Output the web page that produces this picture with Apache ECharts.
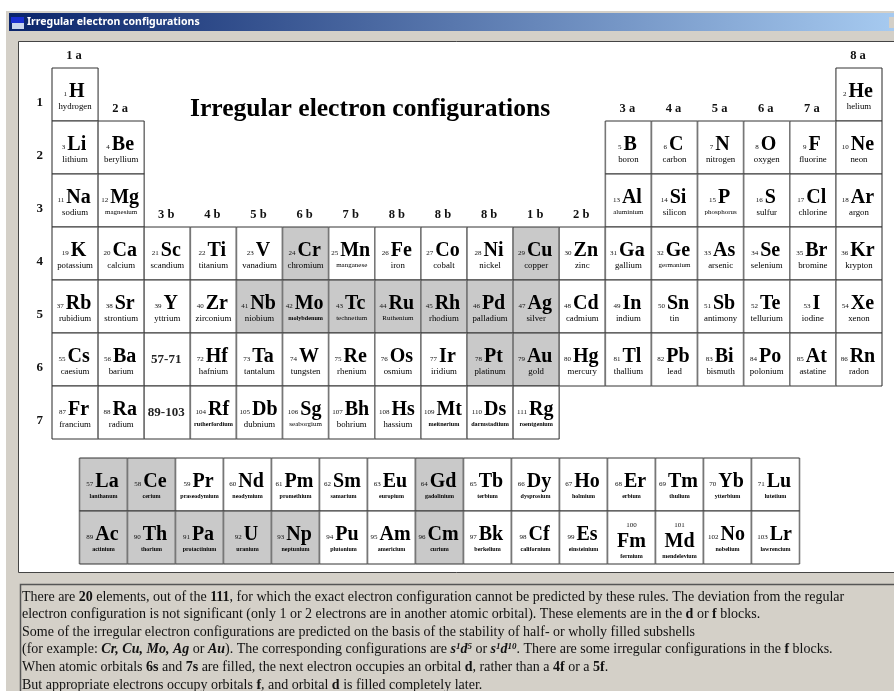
<!DOCTYPE html>
<html>
<head>
<meta charset="utf-8">
<style>
  html, body { margin: 0; padding: 0; background: #fff; }
  #chart { width: 894px; height: 691px; }
</style>
<script src="https://cdn.jsdelivr.net/npm/echarts@6/dist/echarts.min.js"></script>
</head>
<body>
<div id="chart"></div>
<script>
const serif = '"Liberation Serif", serif';

const groupLabels = ['1 a', '2 a', '3 b', '4 b', '5 b', '6 b', '7 b', '8 b', '8 b', '8 b', '1 b', '2 b', '3 a', '4 a', '5 a', '6 a', '7 a', '8 a'];
const periodLabels = ['1', '2', '3', '4', '5', '6', '7'];

const period1Cols = [0, 17];
const period1Numbers = [1, 2];
const period1Symbols = ['H', 'He'];
const period1Names = ['hydrogen', 'helium'];

const period2Cols = [0, 1, 12, 13, 14, 15, 16, 17];
const period2Numbers = [3, 4, 5, 6, 7, 8, 9, 10];
const period2Symbols = ['Li', 'Be', 'B', 'C', 'N', 'O', 'F', 'Ne'];
const period2Names = ['lithium', 'beryllium', 'boron', 'carbon', 'nitrogen', 'oxygen', 'fluorine', 'neon'];

const period3Cols = [0, 1, 12, 13, 14, 15, 16, 17];
const period3Numbers = [11, 12, 13, 14, 15, 16, 17, 18];
const period3Symbols = ['Na', 'Mg', 'Al', 'Si', 'P', 'S', 'Cl', 'Ar'];
const period3Names = ['sodium', 'magnesium', 'aluminium', 'silicon', 'phosphorus', 'sulfur', 'chlorine', 'argon'];

const period4Numbers = [19, 20, 21, 22, 23, 24, 25, 26, 27, 28, 29, 30, 31, 32, 33, 34, 35, 36];
const period4Symbols = ['K', 'Ca', 'Sc', 'Ti', 'V', 'Cr', 'Mn', 'Fe', 'Co', 'Ni', 'Cu', 'Zn', 'Ga', 'Ge', 'As', 'Se', 'Br', 'Kr'];
const period4Names = ['potassium', 'calcium', 'scandium', 'titanium', 'vanadium', 'chromium', 'manganese', 'iron', 'cobalt', 'nickel', 'copper', 'zinc', 'gallium', 'germanium', 'arsenic', 'selenium', 'bromine', 'krypton'];

const period5Numbers = [37, 38, 39, 40, 41, 42, 43, 44, 45, 46, 47, 48, 49, 50, 51, 52, 53, 54];
const period5Symbols = ['Rb', 'Sr', 'Y', 'Zr', 'Nb', 'Mo', 'Tc', 'Ru', 'Rh', 'Pd', 'Ag', 'Cd', 'In', 'Sn', 'Sb', 'Te', 'I', 'Xe'];
const period5Names = ['rubidium', 'strontium', 'yttrium', 'zirconium', 'niobium', 'molybdenum', 'technetium', 'Ruthenium', 'rhodium', 'palladium', 'silver', 'cadmium', 'indium', 'tin', 'antimony', 'tellurium', 'iodine', 'xenon'];

const period6Numbers = [55, 56, '', 72, 73, 74, 75, 76, 77, 78, 79, 80, 81, 82, 83, 84, 85, 86];
const period6Symbols = ['Cs', 'Ba', '57-71', 'Hf', 'Ta', 'W', 'Re', 'Os', 'Ir', 'Pt', 'Au', 'Hg', 'Tl', 'Pb', 'Bi', 'Po', 'At', 'Rn'];
const period6Names = ['caesium', 'barium', '', 'hafnium', 'tantalum', 'tungsten', 'rhenium', 'osmium', 'iridium', 'platinum', 'gold', 'mercury', 'thallium', 'lead', 'bismuth', 'polonium', 'astatine', 'radon'];

const period7Numbers = [87, 88, '', 104, 105, 106, 107, 108, 109, 110, 111];
const period7Symbols = ['Fr', 'Ra', '89-103', 'Rf', 'Db', 'Sg', 'Bh', 'Hs', 'Mt', 'Ds', 'Rg'];
const period7Names = ['francium', 'radium', '', 'rutherfordium', 'dubnium', 'seaborgium', 'bohrium', 'hassium', 'meitnerium', 'darmstadtium', 'roentgenium'];

const lanthanideNumbers = [57, 58, 59, 60, 61, 62, 63, 64, 65, 66, 67, 68, 69, 70, 71];
const lanthanideSymbols = ['La', 'Ce', 'Pr', 'Nd', 'Pm', 'Sm', 'Eu', 'Gd', 'Tb', 'Dy', 'Ho', 'Er', 'Tm', 'Yb', 'Lu'];
const lanthanideNames = ['lanthanum', 'cerium', 'praseodymium', 'neodymium', 'promethium', 'samarium', 'europium', 'gadolinium', 'terbium', 'dysprosium', 'holmium', 'erbium', 'thulium', 'ytterbium', 'lutetium'];

const actinideNumbers = [89, 90, 91, 92, 93, 94, 95, 96, 97, 98, 99, 100, 101, 102, 103];
const actinideSymbols = ['Ac', 'Th', 'Pa', 'U', 'Np', 'Pu', 'Am', 'Cm', 'Bk', 'Cf', 'Es', 'Fm', 'Md', 'No', 'Lr'];
const actinideNames = ['actinium', 'thorium', 'protactinium', 'uranium', 'neptunium', 'plutonium', 'americium', 'curium', 'berkelium', 'californium', 'einsteinium', 'fermium', 'mendelevium', 'nobelium', 'lawrencium'];

// the 20 irregular ones, drawn grey
const irregularNumbers = [24, 29, 41, 42, 43, 44, 45, 46, 47, 57, 58, 64, 78, 79, 89, 90, 91, 92, 93, 96];
// number sits above the symbol in these two cells
const stackedNumbers = [100, 101];
const smallNames = ['magnesium', 'aluminium', 'phosphorus', 'germanium', 'manganese', 'technetium', 'Ruthenium', 'seaborgium'];
const tinyNames = ['molybdenum', 'rutherfordium', 'darmstadtium', 'roentgenium', 'meitnerium'];

const titleText = 'Irregular electron configurations';
const noteLines = [
  'There are {b|20} elements, out of the {b|111}, for which the exact electron configuration cannot be predicted by these rules. The deviation from the regular',
  'electron configuration is not significant (only 1 or 2 electrons are in another atomic orbital). These elements are in the {b|d} or {b|f} blocks.',
  'Some of the irregular electron configurations are predicted on the basis of the stability of half- or wholly filled subshells',
  '(for example: {bi|Cr, Cu, Mo, Ag} or {bi|Au}). The corresponding configurations are {bi|s}{sup|1}{bi|d}{sup|5} or {bi|s}{sup|1}{bi|d}{sup|10}. There are some irregular configurations in the {b|f} blocks.',
  'When atomic orbitals {b|6s} and {b|7s} are filled, the next electron occupies an orbital {b|d}, rather than a {b|4f} or a {b|5f}.',
  'But appropriate electrons occupy orbitals {b|f}, and orbital {b|d} is filled completely later.'
];

function buildCells(row, cols, numbers, symbols, names) {
  return symbols.map((symbol, i) => ({
    col: cols ? cols[i] : i,
    row,
    number: numbers[i],
    symbol,
    name: names[i]
  }));
}

const mainCells = [
  ...buildCells(0, period1Cols, period1Numbers, period1Symbols, period1Names),
  ...buildCells(1, period2Cols, period2Numbers, period2Symbols, period2Names),
  ...buildCells(2, period3Cols, period3Numbers, period3Symbols, period3Names),
  ...buildCells(3, null, period4Numbers, period4Symbols, period4Names),
  ...buildCells(4, null, period5Numbers, period5Symbols, period5Names),
  ...buildCells(5, null, period6Numbers, period6Symbols, period6Names),
  ...buildCells(6, null, period7Numbers, period7Symbols, period7Names)
];
const lowerCells = [
  ...buildCells(0, null, lanthanideNumbers, lanthanideSymbols, lanthanideNames),
  ...buildCells(1, null, actinideNumbers, actinideSymbols, actinideNames)
];

const numberFont = { fontFamily: serif, fontSize: 7, fill: '#111', verticalAlign: 'bottom', lineHeight: 20, padding: [0, 2, 4, 0] };
const symbolFont = { fontFamily: serif, fontSize: 20, fontWeight: 'bold', fill: '#000', lineHeight: 20 };

function nameStyle(name, lower) {
  if (lower) return { fontSize: 6, fontWeight: 'bold' };
  if (tinyNames.includes(name)) return { fontSize: 6.2, fontWeight: 'bold' };
  if (smallNames.includes(name)) return { fontSize: 7, fontWeight: 'normal' };
  return { fontSize: 8.8, fontWeight: 'normal' };
}

function makeRenderItem(cells, lower) {
  return function (params, api) {
    const cell = cells[params.dataIndex];
    const center = api.coord([cell.col, cell.row]);
    const size = api.size([1, 1]);
    const x0 = center[0] - size[0] / 2;
    const y0 = center[1] - size[1] / 2;
    const x1 = x0 + size[0];
    const y1 = y0 + size[1];
    const grey = irregularNumbers.includes(cell.number);
    const children = [
      { type: 'rect', shape: { x: x0, y: y0, width: size[0], height: size[1] }, style: { fill: grey ? '#c9c9c9' : '#fff' } },
      { type: 'line', shape: { x1: x0, y1: y0, x2: x0, y2: y1 }, style: { stroke: '#777', lineWidth: 1.6 } },
      { type: 'line', shape: { x1: x1, y1: y0, x2: x1, y2: y1 }, style: { stroke: '#777', lineWidth: 1.6 } },
      { type: 'line', shape: { x1: x0, y1: y0, x2: x1, y2: y0 }, style: { stroke: '#333', lineWidth: 1 } },
      { type: 'line', shape: { x1: x0, y1: y1, x2: x1, y2: y1 }, style: { stroke: '#333', lineWidth: 1 } }
    ];
    if (cell.number === '') {
      // 57-71 / 89-103 placeholder cell
      children.push({
        type: 'text',
        style: { x: center[0] - 1, y: center[1], text: cell.symbol, align: 'center', verticalAlign: 'middle', fontFamily: serif, fontSize: 13, fontWeight: 'bold', fill: '#222' }
      });
      return { type: 'group', children };
    }
    if (stackedNumbers.includes(cell.number)) {
      children.push({
        type: 'text',
        style: { x: center[0], y: y0 + 14, text: String(cell.number), align: 'center', verticalAlign: 'middle', fontFamily: serif, fontSize: 7, fill: '#111' }
      });
      children.push({
        type: 'text',
        style: { x: center[0], y: y0 + 30.5, text: cell.symbol, align: 'center', verticalAlign: 'middle', fontFamily: serif, fontSize: 20, fontWeight: 'bold', fill: '#000' }
      });
      children.push({
        type: 'text',
        style: Object.assign({ x: center[0], y: y0 + 45, text: cell.name, align: 'center', verticalAlign: 'middle', fontFamily: serif, fill: '#000' }, nameStyle(cell.name, lower))
      });
      return { type: 'group', children };
    }
    children.push({
      type: 'text',
      style: {
        x: center[0] - 1,
        y: y0 + 23.5,
        text: '{n|' + cell.number + '}{s|' + cell.symbol + '}',
        align: 'center',
        verticalAlign: 'middle',
        rich: { n: numberFont, s: symbolFont }
      }
    });
    children.push({
      type: 'text',
      style: Object.assign({ x: center[0], y: y0 + 38.5, text: cell.name, align: 'center', verticalAlign: 'middle', fontFamily: serif, fill: '#000' }, nameStyle(cell.name, lower))
    });
    return { type: 'group', children };
  };
}

// group header goes just above the first element in its column
function renderGroupLabel(params, api) {
  const col = params.dataIndex;
  const firstRow = Math.min(...mainCells.filter((c) => c.col === col).map((c) => c.row));
  const center = api.coord([col, firstRow]);
  const size = api.size([1, 1]);
  return {
    type: 'text',
    style: {
      x: center[0] - 1,
      y: center[1] - size[1] / 2 - 12.5,
      text: groupLabels[col],
      align: 'center',
      verticalAlign: 'middle',
      fontFamily: serif,
      fontSize: 12.5,
      fontWeight: 'bold',
      fill: '#111'
    }
  };
}

const chartInstance = echarts.init(document.getElementById('chart'));

const chrome = [
  { type: 'rect', z: -10, shape: { x: 6, y: 11, width: 888, height: 680 }, style: { fill: '#d4d0c8' } },
  {
    type: 'rect', z: -9, shape: { x: 9, y: 13, width: 885, height: 18 },
    style: {
      fill: new echarts.graphic.LinearGradient(0, 0, 1, 0, [
        { offset: 0, color: '#0a246a' },
        { offset: 1, color: '#a6caf0' }
      ])
    }
  },
  { type: 'rect', z: -8, shape: { x: 11, y: 17, width: 13, height: 6 }, style: { fill: '#1a2fd0' } },
  { type: 'rect', z: -8, shape: { x: 12, y: 23, width: 12, height: 6 }, style: { fill: '#c8d4ec' } },
  { type: 'rect', z: -8, shape: { x: 889, y: 17, width: 5, height: 11 }, style: { fill: '#d4d0c8' } },
  { type: 'text', z: -7, style: { x: 27, y: 22, text: titleText, verticalAlign: 'middle', fontFamily: '"Noto Sans", sans-serif', fontSize: 10.5, fontWeight: 'bold', fill: '#fff' } },
  { type: 'rect', z: -6, shape: { x: 18.5, y: 41.5, width: 880, height: 531 }, style: { fill: '#fff', stroke: '#444', lineWidth: 1 } },
  { type: 'rect', z: -6, shape: { x: 20.5, y: 584.5, width: 880, height: 120 }, style: { fill: '#d4d0c8', stroke: '#555', lineWidth: 1.5 } }
];
const notes = noteLines.map((line, i) => ({
  type: 'text',
  z: 5,
  style: {
    x: 22,
    y: 597 + i * 17.6,
    text: line,
    verticalAlign: 'middle',
    fontFamily: serif,
    fontSize: 14,
    fill: '#111',
    rich: {
      b: { fontFamily: serif, fontSize: 14, fontWeight: 'bold', fill: '#111' },
      bi: { fontFamily: serif, fontSize: 14, fontWeight: 'bold', fontStyle: 'italic', fill: '#111' },
      sup: { fontFamily: serif, fontSize: 9, fontWeight: 'bold', fontStyle: 'italic', fill: '#111', verticalAlign: 'top', lineHeight: 15 }
    }
  }
}));

const option = {
  backgroundColor: '#fff',
  animation: false,
  title: {
    text: titleText,
    left: 190,
    top: 96,
    padding: 0,
    textStyle: { fontFamily: serif, fontSize: 25.6, fontWeight: 'bold', color: '#000' }
  },
  graphic: { elements: [...chrome, ...notes] },
  grid: [
    { left: 52, top: 68, width: 830, height: 371 },
    { left: 79.5, top: 458, width: 720, height: 106 }
  ],
  xAxis: [
    { type: 'category', gridIndex: 0, data: groupLabels, show: false },
    { type: 'category', gridIndex: 1, data: lanthanideSymbols, show: false }
  ],
  yAxis: [
    {
      type: 'category',
      gridIndex: 0,
      inverse: true,
      data: periodLabels,
      axisLine: { show: false },
      axisTick: { show: false },
      axisLabel: { margin: 9, verticalAlign: 'top', lineHeight: 16, fontFamily: serif, fontSize: 13, fontWeight: 'bold', color: '#111' }
    },
    { type: 'category', gridIndex: 1, inverse: true, data: ['La', 'Ac'], show: false }
  ],
  series: [
    {
      type: 'custom',
      xAxisIndex: 0,
      yAxisIndex: 0,
      silent: true,
      renderItem: makeRenderItem(mainCells, false),
      data: mainCells.map((c) => [c.col, c.row])
    },
    {
      type: 'custom',
      xAxisIndex: 1,
      yAxisIndex: 1,
      silent: true,
      renderItem: makeRenderItem(lowerCells, true),
      data: lowerCells.map((c) => [c.col, c.row])
    },
    {
      type: 'custom',
      xAxisIndex: 0,
      yAxisIndex: 0,
      silent: true,
      clip: false,
      renderItem: renderGroupLabel,
      data: groupLabels.map((g, i) => [i, 0])
    }
  ]
};
chartInstance.setOption(option);
</script>
</body>
</html>
